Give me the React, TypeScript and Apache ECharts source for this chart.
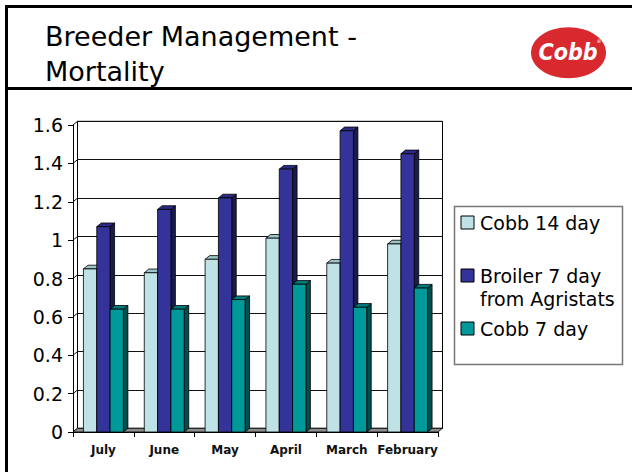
import React, { useEffect, useRef } from "react";
import * as echarts from "echarts";

const categories = ["July", "June", "May", "April", "March", "February"];
const cobb14 = [0.85, 0.83, 0.9, 1.01, 0.88, 0.98];
const broiler7 = [1.07, 1.16, 1.22, 1.37, 1.57, 1.45];
const cobb7 = [0.64, 0.64, 0.69, 0.77, 0.65, 0.75];
const yTicks = [0, 0.2, 0.4, 0.6, 0.8, 1, 1.2, 1.4, 1.6];
const seriesNames = ["Cobb 14 day", "Broiler 7 day", "Cobb 7 day"];
const legendSecondLine = ["", "from Agristats", ""];
const titleLines = ["Breeder Management -", "Mortality"];

const FONT = "DejaVu Sans";
const DX = 4.5;
const DY = -3.7;
const GL = 73, GT = 125, GW = 365, GH = 307;

const faces = [
  { front: "#BEE2E5", top: "#9CC3C6", side: "#7FA6A9" },
  { front: "#333399", top: "#2B2B85", side: "#1A1A4D" },
  { front: "#009999", top: "#007C7C", side: "#004F4F" },
];

function barSeries(idx: number, values: number[]) {
  return {
    type: "custom",
    name: seriesNames[idx],
    xAxisIndex: 0,
    yAxisIndex: 0,
    z: 5 + idx,
    data: values.map((v, i) => [i, v]),
    renderItem: (params: any, api: any) => {
      const cat = api.value(0);
      const val = api.value(1);
      const topPt = api.coord([cat, val]);
      const basePt = api.coord([cat, 0]);
      const band = api.size([1, 0])[0];
      const bw = band * 0.219;
      const x0 = topPt[0] - 1.5 * bw + idx * bw;
      const yt = topPt[1];
      const yb = basePt[1];
      const c = faces[idx];
      const stroke = { stroke: "#000", lineWidth: 0.8 };
      return {
        type: "group",
        children: [
          {
            type: "polygon",
            shape: { points: [[x0 + bw, yt], [x0 + bw + DX, yt + DY], [x0 + bw + DX, yb + DY], [x0 + bw, yb]] },
            style: { fill: c.side, ...stroke },
          },
          {
            type: "polygon",
            shape: { points: [[x0, yt], [x0 + DX, yt + DY], [x0 + bw + DX, yt + DY], [x0 + bw, yt]] },
            style: { fill: c.top, ...stroke },
          },
          {
            type: "rect",
            shape: { x: x0, y: yt, width: bw, height: yb - yt },
            style: { fill: c.front, ...stroke },
          },
        ],
      };
    },
  };
}

export default function App() {
  const ref = useRef<HTMLDivElement>(null);
  useEffect(() => {
    if (!ref.current) return;
    const chart = echarts.init(ref.current, null, { renderer: "svg" });

    const legendGraphics: any[] = [];
    const legendY = [222.5, 275.5, 328.5];
    legendGraphics.push({
      type: "rect",
      shape: { x: 454.5, y: 206.5, width: 168, height: 158 },
      style: { fill: "#fff", stroke: "#777", lineWidth: 1.5 },
      z: 20,
    });
    seriesNames.forEach((name, i) => {
      legendGraphics.push({
        type: "rect",
        shape: { x: 461, y: legendY[i] - 6.5, width: 13, height: 13 },
        style: { fill: faces[i].front, stroke: "#000", lineWidth: 1 },
        z: 21,
      });
      legendGraphics.push({
        type: "text",
        x: 480,
        y: legendY[i],
        style: { text: name, font: `19px '${FONT}'`, fill: "#000", verticalAlign: "middle", align: "left" },
        z: 21,
      });
      if (legendSecondLine[i]) {
        legendGraphics.push({
          type: "text",
          x: 480,
          y: legendY[i] + 23,
          style: { text: legendSecondLine[i], font: `19px '${FONT}'`, fill: "#000", verticalAlign: "middle", align: "left" },
          z: 21,
        });
      }
    });

    const option: any = {
      animation: false,
      backgroundColor: "#fff",
      grid: [
        { left: GL, top: GT, width: GW, height: GH, show: false },
        { left: GL + DX, top: GT + DY, width: GW, height: GH, show: true, borderColor: "#000", borderWidth: 1, backgroundColor: "#fff" },
      ],
      xAxis: [
        {
          type: "category",
          gridIndex: 0,
          data: categories,
          axisLine: { show: true, lineStyle: { color: "#000", width: 1 } },
          axisTick: { show: true, length: 5, lineStyle: { color: "#000" } },
          axisLabel: { fontFamily: FONT, fontSize: 12, fontWeight: "bold", color: "#111", margin: 12, interval: 0 },
          z: 10,
        },
        {
          type: "category",
          gridIndex: 1,
          data: categories,
          show: false,
        },
      ],
      yAxis: [
        {
          type: "value",
          gridIndex: 0,
          min: 0,
          max: 1.6,
          interval: 0.2,
          axisLine: { show: true, lineStyle: { color: "#000", width: 1 } },
          axisTick: { show: true, length: 5, lineStyle: { color: "#000" } },
          axisLabel: {
            fontFamily: FONT,
            fontSize: 19,
            color: "#000",
            margin: 10,
            formatter: (v: number) => {
              const t = yTicks.find((k) => Math.abs(k - v) < 1e-6);
              return String(t !== undefined ? t : v);
            },
          },
          splitLine: { show: false },
          z: 10,
        },
        {
          type: "value",
          gridIndex: 1,
          min: 0,
          max: 1.6,
          interval: 0.2,
          axisLine: { show: false },
          axisTick: { show: false },
          axisLabel: { show: false },
          splitLine: { show: true, lineStyle: { color: "#111", width: 1 } },
        },
      ],
      series: [
        {
          type: "custom",
          name: "walls",
          xAxisIndex: 0,
          yAxisIndex: 0,
          z: 2,
          data: yTicks.map((v) => [0, v]),
          renderItem: (params: any, api: any) => {
            const cs = params.coordSys;
            const y = api.coord([0, api.value(1)])[1];
            return {
              type: "line",
              shape: { x1: cs.x, y1: y, x2: cs.x + DX, y2: y + DY },
              style: { stroke: "#111", lineWidth: 1 },
            };
          },
        },
        {
          type: "custom",
          name: "floor",
          xAxisIndex: 0,
          yAxisIndex: 0,
          z: 3,
          data: [[0, 0]],
          renderItem: (params: any, api: any) => {
            const cs = params.coordSys;
            const yb = api.coord([0, 0])[1];
            const x0 = cs.x;
            const x1 = cs.x + cs.width;
            return {
              type: "polygon",
              shape: { points: [[x0, yb], [x1, yb], [x1 + DX, yb + DY], [x0 + DX, yb + DY]] },
              style: { fill: "#8C8C8C", stroke: "#000", lineWidth: 0.8 },
            };
          },
        },
        barSeries(0, cobb14),
        barSeries(1, broiler7),
        barSeries(2, cobb7),
      ],
      graphic: [
        { type: "rect", shape: { x: 5, y: 5, width: 627, height: 3 }, style: { fill: "#000" }, z: 30 },
        { type: "rect", shape: { x: 5, y: 87, width: 627, height: 3 }, style: { fill: "#000" }, z: 30 },
        { type: "rect", shape: { x: 5, y: 5, width: 3, height: 467 }, style: { fill: "#000" }, z: 30 },
        {
          type: "text",
          x: 45,
          y: 36.7,
          style: { text: titleLines[0], font: `27px '${FONT}'`, fill: "#000", verticalAlign: "middle", align: "left" },
          z: 30,
        },
        {
          type: "text",
          x: 45,
          y: 71.7,
          style: { text: titleLines[1], font: `27px '${FONT}'`, fill: "#000", verticalAlign: "middle", align: "left" },
          z: 30,
        },
        {
          type: "ellipse",
          shape: { cx: 568.5, cy: 52.8, rx: 37.5, ry: 25.5 },
          style: { fill: "#D8292F" },
          z: 30,
        },
        {
          type: "text",
          x: 568,
          y: 52,
          style: {
            text: "Cobb",
            font: `italic bold 23px 'DejaVu Sans Condensed', '${FONT}'`,
            fill: "#fff",
            verticalAlign: "middle",
            align: "center",
          },
          z: 31,
        },
        {
          type: "text",
          x: 599,
          y: 41,
          style: { text: "®", font: `5px '${FONT}'`, fill: "#fff", verticalAlign: "middle", align: "center" },
          z: 31,
        },
        ...legendGraphics,
      ],
    };
    chart.setOption(option);
    return () => chart.dispose();
  }, []);
  return (
    <div
      ref={ref}
      style={{ position: "fixed", left: 0, top: 0, width: 632, height: 472, background: "#fff" }}
    />
  );
}
